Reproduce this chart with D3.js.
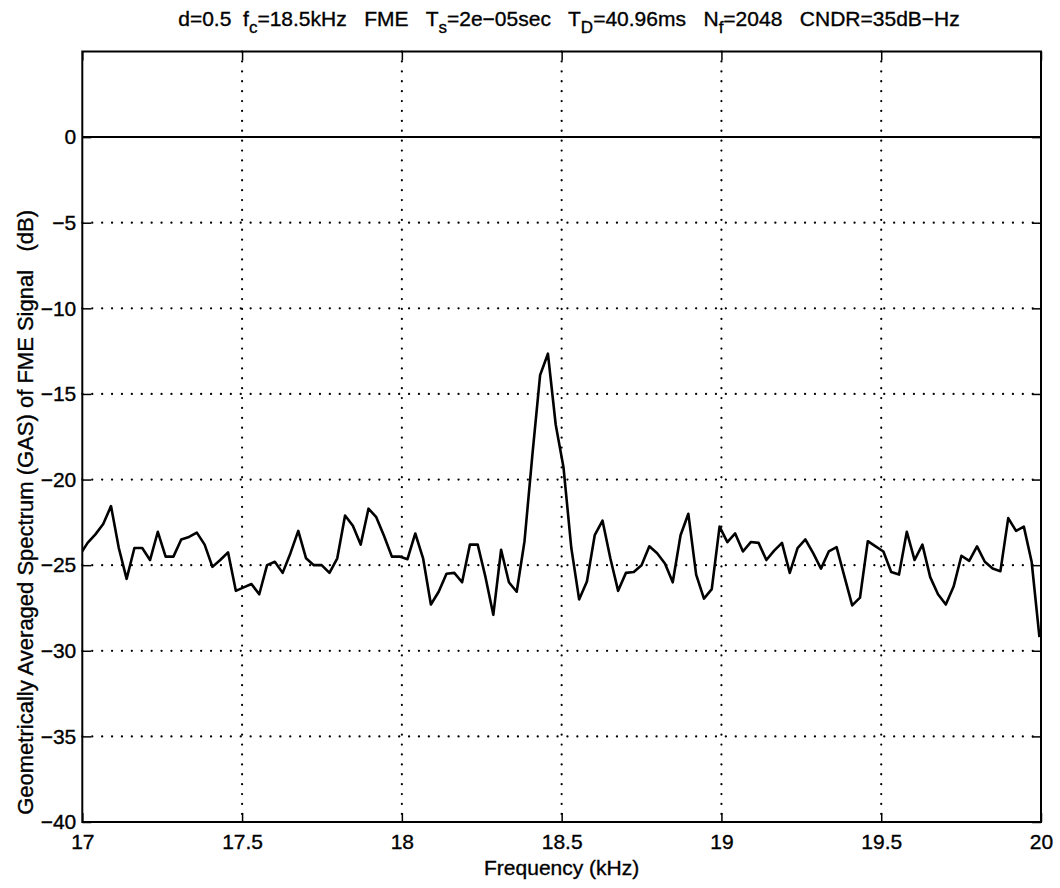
<!DOCTYPE html>
<html>
<head>
<meta charset="utf-8">
<script src="https://cdn.jsdelivr.net/npm/d3@7"></script>
<style>
  body { margin: 0; background: #fff; }
  svg { font-family: "Liberation Sans", Arial, Helvetica, sans-serif; }
</style>
</head>
<body>
<div id="chart"></div>
<script>
// geometrically averaged spectrum, dB, one value per FFT bin (first bin sits just below 17 kHz)
var gas = [
  -24.4, -23.7, -23.2, -22.6, -21.55, -24.0, -25.8, -24.0, -24.0, -24.7,
  -23.05, -24.5, -24.5, -23.5, -23.35, -23.1, -23.8, -25.1, -24.7, -24.25,
  -26.5, -26.3, -26.1, -26.7, -25.0, -24.8, -25.45, -24.3, -23.0, -24.6,
  -25.0, -25.0, -25.45, -24.6, -22.1, -22.7, -23.8, -21.7, -22.2, -23.3,
  -24.5, -24.5, -24.65, -23.15, -24.6, -27.3, -26.55, -25.5, -25.45, -26.0,
  -23.8, -23.8, -25.7, -27.9, -24.1, -26.0, -26.55, -23.6, -18.6, -13.9,
  -12.65, -16.8, -19.3, -24.0, -27.0, -25.95, -23.25, -22.4, -24.6, -26.5,
  -25.45, -25.4, -25.0, -23.9, -24.3, -24.9, -26.0, -23.25, -22.0, -25.55,
  -26.95, -26.4, -22.75, -23.65, -23.15, -24.2, -23.65, -23.7, -24.7, -24.15,
  -23.7, -25.45, -24.0, -23.5, -24.3, -25.2, -24.2, -23.95, -25.65, -27.35,
  -26.9, -23.6, -23.9, -24.2, -25.4, -25.55, -23.05, -24.7, -23.8, -25.7,
  -26.7, -27.3, -26.25, -24.45, -24.75, -23.9, -24.8, -25.2, -25.35, -22.25,
  -23.0, -22.75, -24.8, -29.2
];

// FFT bin grid from the title: Nf = 2048, Ts = 2e-05 sec
var nf = 2048, ts = 2e-5;
var binKHz = 1 / (nf * ts) / 1000;
var firstBin = 696;

var xTicks = [17, 17.5, 18, 18.5, 19, 19.5, 20];
var yTicks = [0, -5, -10, -15, -20, -25, -30, -35, -40];
var xGrid = [17.5, 18, 18.5, 19, 19.5];
var yGrid = [-5, -10, -15, -20, -25, -30, -35];

var W = 1060, H = 888;
var pl = 82.3, pr = 1041, pt = 51.5, pb = 822;
var fs = 21;

var svg = d3.select("#chart").append("svg")
  .attr("width", W)
  .attr("height", H);

var x = d3.scaleLinear().domain([17, 20]).range([pl, pr]);
var y = d3.scaleLinear().domain([-40, 5]).range([pb, pt]);

var fmt = function(d) { return (d < 0 ? "\u2212" : "") + Math.abs(d); };

// dotted grid
svg.append("g").selectAll("line").data(xGrid).enter().append("line")
  .attr("x1", d => x(d)).attr("x2", d => x(d))
  .attr("y1", pt).attr("y2", pb)
  .attr("stroke", "#000").attr("stroke-width", 2.2)
  .attr("stroke-linecap", "round")
  .attr("stroke-dasharray", "0.1,9.8");

svg.append("g").selectAll("line").data(yGrid).enter().append("line")
  .attr("x1", pl).attr("x2", pr)
  .attr("y1", d => y(d)).attr("y2", d => y(d))
  .attr("stroke", "#000").attr("stroke-width", 2.2)
  .attr("stroke-linecap", "round")
  .attr("stroke-dasharray", "0.1,9.8");

// solid zero line
svg.append("line")
  .attr("x1", pl).attr("x2", pr)
  .attr("y1", y(0)).attr("y2", y(0))
  .attr("stroke", "#000").attr("stroke-width", 2);

// axes, ticks pointing inward
var tick = 9;
svg.append("g")
  .attr("transform", "translate(0," + pb + ")")
  .call(d3.axisBottom(x).tickValues(xTicks).tickSize(-tick).tickSizeOuter(0).tickPadding(12).tickFormat(d => d));
svg.append("g")
  .attr("transform", "translate(0," + pt + ")")
  .call(d3.axisTop(x).tickValues(xTicks).tickSize(-tick).tickSizeOuter(0).tickFormat(""));
svg.append("g")
  .attr("transform", "translate(" + pl + ",0)")
  .call(d3.axisLeft(y).tickValues(yTicks).tickSize(-tick).tickSizeOuter(0).tickPadding(6).tickFormat(fmt));
svg.append("g")
  .attr("transform", "translate(" + pr + ",0)")
  .call(d3.axisRight(y).tickValues(yTicks).tickSize(-tick).tickSizeOuter(0).tickFormat(""));

svg.selectAll(".domain").remove();
svg.selectAll(".tick line").attr("stroke", "#000").attr("stroke-width", 1.5);
svg.selectAll(".tick text")
  .attr("fill", "#000")
  .attr("stroke", "#000").attr("stroke-width", 0.35)
  .attr("font-size", fs)
  .attr("font-family", "Liberation Sans, Arial, sans-serif");

// box
svg.append("rect")
  .attr("x", pl).attr("y", pt)
  .attr("width", pr - pl).attr("height", pb - pt)
  .attr("fill", "none").attr("stroke", "#000").attr("stroke-width", 2);

// spectrum line
svg.append("clipPath").attr("id", "clip")
  .append("rect")
  .attr("x", pl).attr("y", pt)
  .attr("width", pr - pl).attr("height", pb - pt);

var line = d3.line()
  .x((d, i) => x((firstBin + i) * binKHz))
  .y(d => y(d));

svg.append("path")
  .datum(gas)
  .attr("clip-path", "url(#clip)")
  .attr("d", line)
  .attr("fill", "none")
  .attr("stroke", "#000")
  .attr("stroke-width", 2.6)
  .attr("stroke-linejoin", "round");

// labels
svg.append("text")
  .attr("x", (pl + pr) / 2)
  .attr("y", 875)
  .attr("text-anchor", "middle")
  .attr("font-size", fs)
  .attr("stroke", "#000").attr("stroke-width", 0.35)
  .text("Frequency (kHz)");

svg.append("text")
  .attr("transform", "translate(33,210) rotate(-90)")
  .attr("text-anchor", "end")
  .attr("font-size", 22)
  .attr("stroke", "#000").attr("stroke-width", 0.35)
  .style("white-space", "pre")
  .text("Geometrically Averaged Spectrum (GAS) of FME Signal   (dB)");

// title with subscripts
var titleParts = [
  ["d=0.5  f", ""], ["c", "sub"], ["=18.5kHz   FME   T", ""], ["s", "sub"],
  ["=2e\u221205sec   T", ""], ["D", "sub"], ["=40.96ms   N", ""], ["f", "sub"],
  ["=2048   CNDR=35dB\u2212Hz", ""]
];
var title = svg.append("text")
  .attr("x", 569)
  .attr("y", 26)
  .attr("text-anchor", "middle")
  .attr("font-size", fs)
  .attr("stroke", "#000").attr("stroke-width", 0.35)
  .style("white-space", "pre");
var prevSub = false;
titleParts.forEach(function(p) {
  var isSub = p[1] == "sub";
  var dy = isSub ? 7 : (prevSub ? -7 : 0);
  title.append("tspan")
    .attr("dy", dy)
    .attr("font-size", isSub ? 17 : fs)
    .text(p[0]);
  prevSub = isSub;
});
</script>
</body>
</html>
